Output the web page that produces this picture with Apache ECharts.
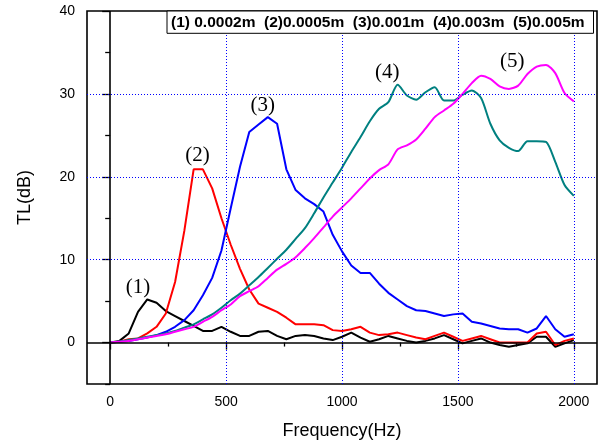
<!DOCTYPE html>
<html>
<head>
<meta charset="utf-8">
<script src="https://cdn.jsdelivr.net/npm/echarts@6/dist/echarts.min.js"></script>
<style>
html,body{margin:0;padding:0;background:#fff;}
#chart{width:599px;height:445px;}
</style>
</head>
<body>
<div id="chart"></div>
<script>
var freqs = [0,40,80,120,160,200,240,280,320,360,400,440,480,520,560,600,640,680,720,760,800,840,880,920,960,1000,1040,1080,1120,1160,1200,1240,1280,1320,1360,1400,1440,1480,1520,1560,1600,1640,1680,1720,1760,1800,1840,1880,1920,1960,2000];
var tl1 = [0,0.2,1.1,3.7,5.2,4.8,3.8,3.2,2.6,2.0,1.4,1.4,1.9,1.3,0.8,0.8,1.3,1.4,0.8,0.4,0.8,0.9,0.8,0.5,0.3,0.7,1.2,0.6,0.1,0.4,0.8,0.5,0.2,0,0.2,0.5,0.9,0.4,-0.1,0.2,0.5,0,-0.3,-0.5,-0.3,-0.1,0.7,0.7,-0.5,-0.1,0.3];
var tl2 = [0,0.1,0.4,0.5,1.1,1.9,3.5,7.3,13.5,20.9,20.9,18.6,15.0,11.8,8.9,6.4,4.7,4.2,3.7,3.0,2.2,2.2,2.2,2.1,1.5,1.4,1.6,1.9,1.2,0.9,1.0,1.2,0.9,0.6,0.4,0.8,1.2,0.7,0.2,0.5,0.8,0.4,0,0,0,0,1.1,1.3,-0.3,0.2,0.5];
var tl3 = [0,0.1,0.2,0.4,0.6,0.9,1.3,1.9,2.7,3.9,5.7,7.8,11.1,16.2,21.2,25.4,26.3,27.2,26.4,20.9,18.4,17.4,16.7,15.8,13.0,11.0,9.3,8.4,8.4,7.1,6.0,5.2,4.4,3.9,3.8,3.5,3.2,3.4,3.5,2.5,2.3,2.0,1.7,1.6,1.6,1.2,1.7,3.2,1.6,0.7,1.0];
var tl4 = [0,0.1,0.3,0.5,0.7,0.9,1.1,1.4,1.8,2.2,2.8,3.4,4.2,5.1,5.9,6.9,7.9,9.0,10.1,11.2,12.5,13.8,15.6,17.5,19.3,21.1,23.0,24.8,26.7,28.2,29.0,31.1,29.8,29.3,30.2,30.8,29.2,29.2,29.9,30.4,29.5,26.4,24.4,23.5,23.1,24.3,24.3,24.2,21.8,19.0,17.7];
var tl5 = [0,0.1,0.2,0.4,0.6,0.8,1.0,1.3,1.6,1.9,2.5,3.1,3.9,4.6,5.6,6.2,6.8,7.8,8.8,9.5,10.3,11.4,12.6,13.9,15.2,16.3,17.4,18.6,19.8,20.8,21.5,23.3,23.8,24.5,25.8,27.2,28.0,28.8,30.0,31.3,32.2,31.8,30.9,30.6,31.0,32.4,33.3,33.5,32.5,30.1,29.1];

var seriesColors = ['#000000','#ff0000','#0000ff','#008080','#ff00ff'];
var curveTags = ['(1)','(2)','(3)','(4)','(5)'];
var tagFreq = [120,377,658,1195,1734];
var tagTL = [6.6,22.6,28.6,32.6,33.9];
var legendText = '(1) 0.0002m  (2)0.0005m  (3)0.001m  (4)0.003m  (5)0.005m';

var xMajor = [0,500,1000,1500,2000];
var xMinor = [250,750,1250,1750];
var yMajor = [0,10,20,30,40];
var yMinor = [-5,5,15,25,35];
var xGrid = [500,1000,1500,2000];
var yGrid = [10,20,30];

var chart = echarts.init(document.getElementById('chart'), null, {renderer:'canvas'});
var FONT = 'Liberation Sans, Arial, sans-serif';

function pairs(vals){ return freqs.map(function(f,i){ return [f, vals[i]]; }); }
function plain(v){ return String(v); }

var gridLineStyle = {type:[1,2], color:'#0000ff', width:1};
var mlData = [];
xGrid.forEach(function(v){ mlData.push({xAxis:v, lineStyle:gridLineStyle}); });
yGrid.forEach(function(v){ mlData.push({yAxis:v, lineStyle:gridLineStyle}); });
mlData.push({xAxis:0, lineStyle:{type:'solid', color:'#000', width:1.6}});
mlData.push({yAxis:0, lineStyle:{type:'solid', color:'#000', width:1.6}});

var series = [{
  type:'line', data:[[0,0]], showSymbol:false, symbol:'none', z:1,
  lineStyle:{opacity:0}, silent:true,
  markLine:{silent:true, symbol:['none','none'], label:{show:false}, animation:false, data:mlData}
}];
[tl1,tl2,tl3,tl4,tl5].forEach(function(arr, i){
  series.push({
    type:'line', data:pairs(arr), showSymbol:false, symbol:'none', z:3,
    smooth: i >= 3 ? 0.25 : false,
    lineStyle:{color:seriesColors[i], width:2}
  });
});

var option = {
  animation:false,
  backgroundColor:'#fff',
  grid:{left:87, top:11, right:2, bottom:60, show:true, borderColor:'#000', borderWidth:1.6, backgroundColor:'transparent'},
  xAxis:[{
    type:'value', min:-100, max:2100,
    axisLine:{show:false},
    axisTick:{show:true, customValues:xMajor, length:7, lineStyle:{color:'#000', width:1.3}},
    axisLabel:{customValues:xMajor, formatter:plain, fontSize:14, color:'#000', margin:11, fontFamily:FONT},
    splitLine:{show:false},
    name:'Frequency(Hz)', nameLocation:'middle', nameGap:38,
    nameTextStyle:{fontSize:18, color:'#000', fontFamily:FONT}
  },{
    type:'value', min:-100, max:2100, position:'bottom',
    axisLine:{show:false},
    axisTick:{show:true, customValues:xMinor, length:4, lineStyle:{color:'#000', width:1.3}},
    axisLabel:{show:false}, splitLine:{show:false}
  }],
  yAxis:[{
    type:'value', min:-5, max:40,
    axisLine:{show:false},
    axisTick:{show:true, customValues:yMajor, length:8, lineStyle:{color:'#000', width:1.3}},
    axisLabel:{customValues:yMajor, formatter:plain, fontSize:14, color:'#000', margin:12, fontFamily:FONT},
    splitLine:{show:false},
    name:'TL(dB)', nameLocation:'middle', nameGap:53, nameRotate:90,
    nameTextStyle:{fontSize:18, color:'#000', fontFamily:FONT}
  },{
    type:'value', min:-5, max:40, position:'left',
    axisLine:{show:false},
    axisTick:{show:true, customValues:yMinor, length:5, lineStyle:{color:'#000', width:1.3}},
    axisLabel:{show:false}, splitLine:{show:false}
  }],
  series:series
};
chart.setOption(option);

var graphics = [];
curveTags.forEach(function(t, i){
  var p = chart.convertToPixel({xAxisIndex:0, yAxisIndex:0}, [tagFreq[i], tagTL[i]]);
  graphics.push({type:'text', x:p[0], y:p[1], z:10,
    style:{text:t, fill:'#000', font:'21px "Liberation Serif", "Times New Roman", serif', align:'center', verticalAlign:'middle'}});
});
graphics.push({type:'rect', shape:{x:167, y:11, width:426.5, height:22.3}, z:9,
  style:{fill:'#fff', stroke:'#000', lineWidth:1}});
graphics.push({type:'text', x:171, y:22.5, z:10,
  style:{text:legendText, fill:'#000', font:'bold 15.5px "Liberation Sans", Arial, sans-serif', verticalAlign:'middle', align:'left'}});
chart.setOption({graphic:graphics});
</script>
</body>
</html>
